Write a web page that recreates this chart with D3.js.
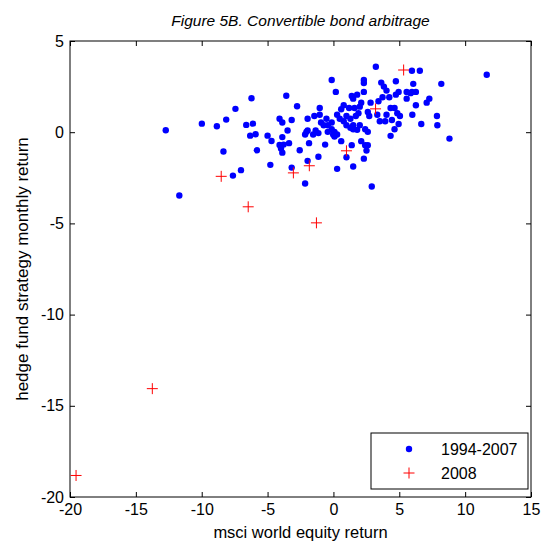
<!DOCTYPE html>
<html>
<head>
<meta charset="utf-8">
<script src="https://cdn.jsdelivr.net/npm/d3@7"></script>
<style>
  body { margin: 0; background: #fff; }
  text { font-family: "Liberation Sans", Arial, sans-serif; }
</style>
</head>
<body>
<div id="chart"></div>
<script>
// 1994-2007 monthly returns: [msci world, hedge fund]
const pre2008 = [
  [-12.73, 0.11], [-9.99, 0.47], [-8.85, 0.33], [-8.14, 0.69], [-7.44, 1.28],
  [-6.22, 1.86], [-6.62, 0.40], [-6.11, 0.47], [-6.32, -0.19], [-5.91, -0.11],
  [-5.0, -0.19], [-4.70, -0.48], [-5.81, -0.99], [-8.35, -1.06], [-4.79, -1.79],
  [-7.02, -2.08], [-7.63, -2.38], [-11.70, -3.47], [-4.09, -0.70], [-3.78, -0.68],
  [-3.37, -0.60], [-3.98, -0.90], [-3.88, -1.12], [-2.56, -0.99], [-1.85, -0.60],
  [-0.63, -0.68], [-1.14, -1.35], [-1.96, -1.57], [-3.17, -1.94], [-2.15, -2.81],
  [0.28, -2.01], [3.22, 3.59], [-0.13, 2.86], [2.31, 2.86], [2.31, 2.70],
  [3.63, 2.72], [4.74, 2.79], [0.18, 2.21], [3.83, 2.50], [4.03, 2.28],
  [4.95, 2.21], [-3.58, 2.0], [1.39, 1.99], [1.80, 2.06], [1.50, 1.84],
  [-2.76, 1.42], [-1.04, 1.33], [2.31, 2.21], [2.82, 1.62], [2.11, 1.62],
  [2.0, 1.40], [3.73, 1.92], [4.24, 1.92], [3.42, 1.70], [4.64, 1.33],
  [4.34, 1.33], [0.78, 1.48], [0.59, 1.26], [1.19, 1.33], [1.60, 1.33],
  [-1.45, 0.89], [-1.96, 0.74], [-1.04, 0.96], [-0.53, 0.74], [0.28, 0.96],
  [0.48, 0.74], [0.99, 0.89], [1.29, 0.74], [1.70, 0.89], [1.90, 1.04],
  [2.61, 1.11], [2.72, 0.89], [3.33, 0.96], [3.52, 0.60], [4.03, 0.96],
  [3.93, 0.60], [4.85, 1.04], [5.05, 0.89], [-4.09, 0.74], [-3.88, 0.53],
  [-3.17, 0.67], [-0.94, 0.53], [-0.74, 0.38], [-0.43, 0.38], [-0.13, 0.53],
  [0.78, 0.60], [0.99, 0.38], [1.50, 0.38], [2.0, 0.38], [2.41, 0.16],
  [2.61, 0.02], [-2.05, 0.02], [-2.15, -0.13], [-1.96, 0.09], [-0.13, 0.16],
  [-0.43, 0.02], [0.08, 0.02], [-1.35, 0.09], [-1.14, -0.05], [-1.54, -0.13],
  [1.50, 0.16], [1.29, 0.24], [-3.88, -0.27], [-3.48, 0.09], [-0.02, -0.13],
  [0.28, -0.13], [0.59, -0.49], [1.39, -0.71], [2.11, -0.49], [2.41, -0.71],
  [2.61, -0.71], [2.51, -1.01], [4.34, -0.20], [4.64, 0.16], [4.95, 0.45],
  [0.99, -1.37], [1.50, -1.88], [2.31, -1.45], [2.91, -2.98], [0.08, -0.24],
  [5.96, 3.37], [6.56, 3.37], [11.64, 3.15], [6.06, 2.65], [8.19, 2.65],
  [4.74, 2.06], [5.56, 2.21], [5.96, 2.21], [6.26, 2.21], [5.86, 2.14],
  [5.56, 1.84], [7.28, 1.84], [7.08, 1.62], [6.26, 1.48], [5.99, 0.96],
  [7.86, 0.89], [4.44, 0.67], [6.67, 0.45], [7.89, 0.38], [8.81, -0.35],
  [1.80, 0.13]
];

// 2008 monthly returns
const year2008 = [
  [-19.54, -18.82], [-13.75, -14.06], [-8.52, -2.42], [-6.47, -4.09],
  [-3.04, -2.23], [-1.83, -1.84], [-1.29, -4.97], [0.99, -1.02],
  [3.20, 1.28], [5.33, 3.41]
];

const xTicks = [-20, -15, -10, -5, 0, 5, 10, 15];
const yTicks = [-20, -15, -10, -5, 0, 5];
const seriesNames = ["1994-2007", "2008"];

const width = 547;
const height = 543;
const margin = { top: 41, right: 16, bottom: 46, left: 70 };

const svg = d3.select("#chart")
  .append("svg")
  .attr("width", width)
  .attr("height", height);

const x = d3.scaleLinear().domain([-20, 15]).range([margin.left, width - margin.right]);
const y = d3.scaleLinear().domain([-20, 5]).range([height - margin.bottom, margin.top]);

const x0 = x(-20), x1 = x(15), y0 = y(-20), y1 = y(5);

// 坐标轴（刻度朝内，四边都有）
const fmt = d => d3.format("d")(d).replace("−", "-");
svg.append("g")
  .attr("transform", `translate(0,${y0})`)
  .call(d3.axisBottom(x).tickValues(xTicks).tickSize(-5).tickPadding(7).tickFormat(fmt))
  .call(g => g.select(".domain").remove());
svg.append("g")
  .attr("transform", `translate(0,${y1})`)
  .call(d3.axisTop(x).tickValues(xTicks).tickSize(-5).tickFormat(""))
  .call(g => g.select(".domain").remove());
svg.append("g")
  .attr("transform", `translate(${x0},0)`)
  .call(d3.axisLeft(y).tickValues(yTicks).tickSize(-5).tickPadding(6).tickFormat(fmt))
  .call(g => g.select(".domain").remove());
svg.append("g")
  .attr("transform", `translate(${x1},0)`)
  .call(d3.axisRight(y).tickValues(yTicks).tickSize(-5).tickFormat(""))
  .call(g => g.select(".domain").remove());

svg.selectAll(".tick text")
  .attr("font-size", 16)
  .attr("fill", "#000");
svg.selectAll(".tick line").attr("stroke", "#000");

svg.append("rect")
  .attr("x", x0).attr("y", y1)
  .attr("width", x1 - x0).attr("height", y0 - y1)
  .attr("fill", "none").attr("stroke", "#000").attr("stroke-width", 1);

// 散点
svg.append("g")
  .selectAll("circle")
  .data(pre2008)
  .enter()
  .append("circle")
  .attr("cx", d => x(d[0]))
  .attr("cy", d => y(d[1]))
  .attr("r", 3.2)
  .attr("fill", "#0000ff");

const cross = (g, s) => g.append("path")
  .attr("d", `M${-s},0H${s}M0,${-s}V${s}`)
  .attr("stroke", "#ff0000")
  .attr("stroke-width", 1)
  .attr("fill", "none");

svg.append("g")
  .selectAll("g")
  .data(year2008)
  .enter()
  .append("g")
  .attr("transform", d => `translate(${x(d[0])},${y(d[1])})`)
  .each(function () { cross(d3.select(this), 5.5); });

// 标题和轴标签
svg.append("text")
  .attr("x", (x0 + x1) / 2).attr("y", 26)
  .attr("text-anchor", "middle")
  .attr("font-size", 15.5)
  .attr("font-style", "italic")
  .text("Figure 5B. Convertible bond arbitrage");

svg.append("text")
  .attr("x", (x0 + x1) / 2).attr("y", 538)
  .attr("text-anchor", "middle")
  .attr("font-size", 16.5)
  .text("msci world equity return");

svg.append("text")
  .attr("transform", `translate(28,${(y0 + y1) / 2}) rotate(-90)`)
  .attr("text-anchor", "middle")
  .attr("font-size", 17)
  .text("hedge fund strategy monthly return");

// 图例
const lg = svg.append("g").attr("transform", "translate(371,433)");
lg.append("rect")
  .attr("width", 157).attr("height", 56)
  .attr("fill", "#fff").attr("stroke", "#000");
lg.append("circle").attr("cx", 38).attr("cy", 16).attr("r", 3.2).attr("fill", "#0000ff");
cross(lg.append("g").attr("transform", "translate(38,40)"), 5.5);
lg.selectAll("text.lab")
  .data(seriesNames)
  .enter()
  .append("text")
  .attr("class", "lab")
  .attr("x", 70)
  .attr("y", (d, i) => 22 + i * 24)
  .attr("font-size", 16)
  .text(d => d);
</script>
</body>
</html>
